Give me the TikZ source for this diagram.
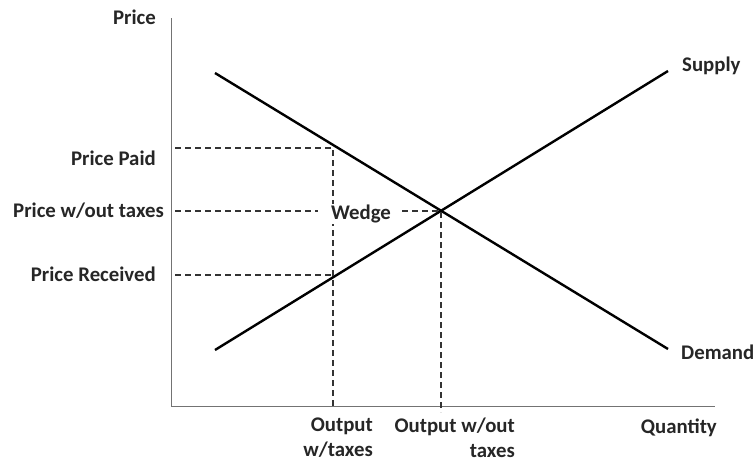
\documentclass[tikz,border=0pt]{standalone}
\usepackage{fontspec}
\setmainfont{Carlito}
\begin{document}
\begin{tikzpicture}[x=1pt,y=-1pt,
  lbl/.style={font=\bfseries\fontsize{20.8}{25}\selectfont, text=black!85, inner sep=0pt},
  axis/.style={draw=black!55, line width=1pt},
  curve/.style={draw=black, line width=2.4pt},
  guide/.style={draw=black!80, line width=1.1pt, dash pattern=on 6pt off 4pt}]
\useasboundingbox (0,0) rectangle (755,466);
% axes
\coordinate (O) at (171,406);
\coordinate (Ytop) at (171,18);
\coordinate (Xend) at (715,406);
\draw[axis] (Ytop) -- (O) -- (Xend);
% curves
\coordinate (D1) at (215,73);
\coordinate (D2) at (668,349);
\coordinate (S1) at (215,350);
\coordinate (S2) at (668,71);
\draw[curve] (D1) -- (D2);
\draw[curve] (S1) -- (S2);
% key points
\coordinate (E) at (441,211);
\coordinate (PP) at (333,148);
\coordinate (PR) at (333,275);
\coordinate (PPa) at (175,148);
\coordinate (PRa) at (175,275);
\coordinate (PWa) at (175,211);
\coordinate (PWb) at (318,211);
\coordinate (PWc) at (402,211);
\coordinate (QWb) at (441,412);
\coordinate (QTb) at (333,406);
% dashed guides
\draw[guide] (PPa) -- (PP) -- (QTb);
\draw[guide] (PRa) -- (PR);
\draw[guide] (PWa) -- (PWb);
\draw[guide] (PWc) -- (E) -- (QWb);
% labels
\node[lbl, anchor=east] (price) at (156,17) {Price};
\node[lbl, anchor=east] (lpp) at (156,158) {Price Paid};
\node[lbl, anchor=east] (lpw) at (164,211) {Price w/out taxes};
\node[lbl, anchor=east] (lpr) at (156,274) {Price Received};
\node[lbl, fill=white, inner sep=1pt] (wedge) at (361,214) {Wedge};
\node[lbl, anchor=west] (sup) at (682,66) {Supply};
\node[lbl, anchor=west] (dem) at (681,352) {Demand};
\node[lbl, anchor=north east, align=right] (ot) at (373,418) {Output\\w/taxes};
\node[lbl, anchor=north east, align=right] (ow) at (515,418) {Output w/out\\taxes};
\node[lbl, anchor=east] (qty) at (717,428) {Quantity};
\end{tikzpicture}
\end{document}
